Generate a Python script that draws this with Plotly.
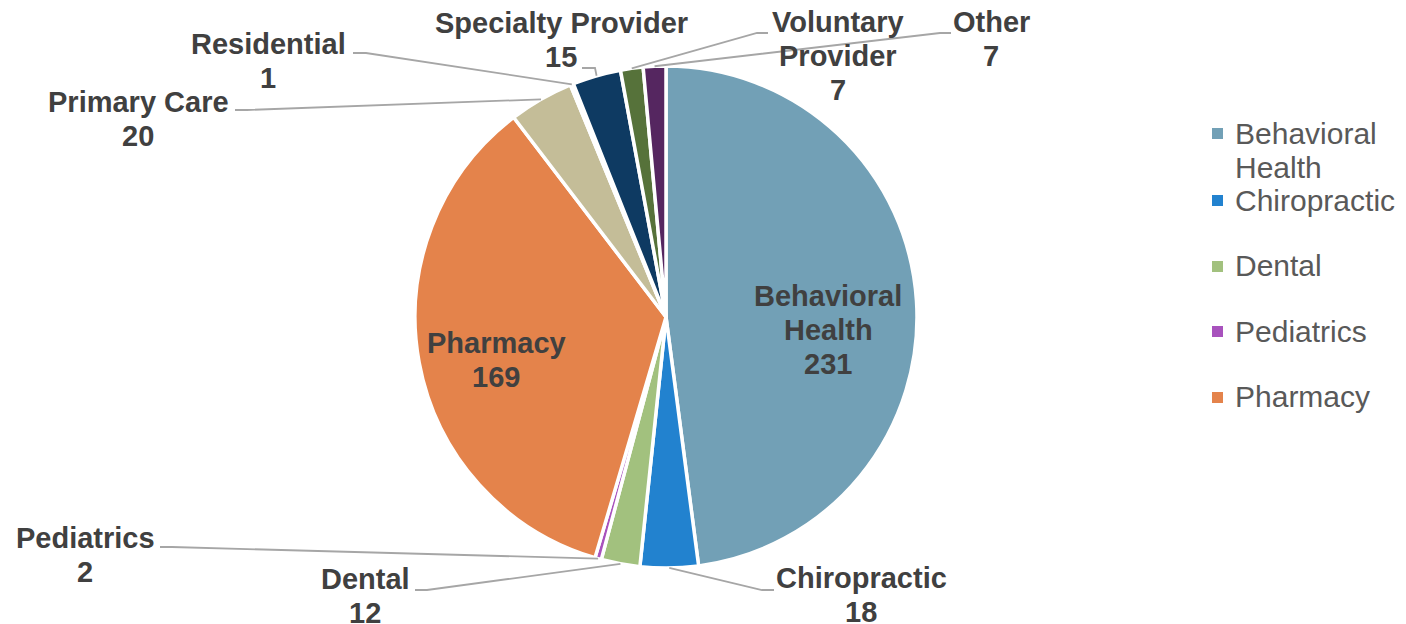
import math
import plotly.graph_objects as go

# ---------------- data ----------------
categories = ["Behavioral Health", "Chiropractic", "Dental", "Pediatrics", "Pharmacy",
              "Primary Care", "Residential", "Specialty Provider", "Voluntary Provider", "Other"]
values = [231, 18, 12, 2, 169, 20, 1, 15, 7, 7]
legend_categories = ["Behavioral Health", "Chiropractic", "Dental", "Pediatrics", "Pharmacy"]

# ---------------- styles ----------------
slice_colors = ["#72a0b6", "#2282cf", "#a2c17e", "#a852bd", "#e4834b",
                "#c4bd98", "#8c8c8c", "#0e3a62", "#56723a", "#552660"]
wrapped = {"Behavioral Health", "Voluntary Provider"}   # labels split over two lines

VIEW_W, VIEW_H = 1406, 624
OFF = 8                             # page body margin of the browser
W, H = VIEW_W - OFF, VIEW_H - OFF
CX, CY, R = 666, 317, 251          # pie centre / radius in page pixels
FONT = "Liberation Sans, Arial, sans-serif"
LABEL_COLOR = "#404040"
LEGEND_COLOR = "#595959"
LINE_COLOR = "#a6a6a6"
LINE_STEP = 34

# label layout: first-line centre (x, y) in page pixels; leader (elbow, end) points
label_pos = {
    "Behavioral Health": (828, 296),
    "Chiropractic": (861, 578),
    "Dental": (365, 579),
    "Pediatrics": (85, 538),
    "Pharmacy": (496, 343),
    "Primary Care": (138, 102),
    "Residential": (268, 44),
    "Specialty Provider": (561, 23),
    "Voluntary Provider": (838, 22),
    "Other": (991, 22),
}
leader_pts = {
    "Chiropractic": [(762, 590), (774, 590)],
    "Dental": [(427, 590), (415, 590)],
    "Pediatrics": [(172, 547), (160, 547)],
    "Primary Care": [(247, 110), (235, 110)],
    "Residential": [(366, 53), (353, 53)],
    "Specialty Provider": [(595, 68), (582, 68)],
    "Voluntary Provider": [(757, 33), (768, 33)],
    "Other": [(940, 33), (951, 33)],
}
legend_x_square, legend_x_text = 1212, 1233
legend_rows = [133, 200, 266, 331, 397]
LEGEND_LINE_STEP = 35


def px(x):
    return (x - OFF) / W


def py(y):
    return 1 - (y - OFF) / H


fig = go.Figure()
fig.add_trace(go.Pie(
    labels=categories, values=values, sort=False, direction="clockwise", rotation=0,
    marker=dict(colors=slice_colors, line=dict(color="white", width=3.5)),
    textinfo="none", hoverinfo="label+value", showlegend=False,
    domain=dict(x=[px(CX - R), px(CX + R)], y=[py(CY + R), py(CY - R)]),
))

annotations = []
shapes = []
total = sum(values)
cum = 0
for cat, val in zip(categories, values):
    mid = (cum + val / 2) / total * 2 * math.pi
    cum += val
    lines = (cat.split(" ") if cat in wrapped else [cat]) + [str(val)]
    lx, ly = label_pos[cat]
    for i, t in enumerate(lines):
        annotations.append(dict(
            x=px(lx), y=py(ly + i * LINE_STEP), xref="paper", yref="paper",
            text=f"<b>{t}</b>", showarrow=False, xanchor="center", yanchor="middle",
            font=dict(family=FONT, size=29, color=LABEL_COLOR)))
    if cat in leader_pts:
        sx = CX + R * math.sin(mid)
        sy = CY - R * math.cos(mid)
        pts = [(sx, sy)] + leader_pts[cat]
        path = "M " + " L ".join(f"{px(x):.5f},{py(y):.5f}" for x, y in pts)
        shapes.append(dict(type="path", path=path, xref="paper", yref="paper",
                           line=dict(color=LINE_COLOR, width=1.8)))

# legend (only the first five categories, as in the original)
for cat, row in zip(legend_categories, legend_rows):
    col = slice_colors[categories.index(cat)]
    shapes.append(dict(type="rect", xref="paper", yref="paper",
                       x0=px(legend_x_square), x1=px(legend_x_square + 11),
                       y0=py(row + 6), y1=py(row - 5),
                       fillcolor=col, line=dict(width=0)))
    for i, t in enumerate(cat.split(" ") if cat == "Behavioral Health" else [cat]):
        annotations.append(dict(
            x=px(legend_x_text), y=py(row + i * LEGEND_LINE_STEP), xref="paper", yref="paper",
            text=t, showarrow=False, xanchor="left", yanchor="middle",
            font=dict(family=FONT, size=30, color=LEGEND_COLOR)))

fig.update_layout(
    width=W, height=H, margin=dict(l=0, r=0, t=0, b=0),
    paper_bgcolor="white", plot_bgcolor="white",
    annotations=annotations, shapes=shapes, showlegend=False,
)
fig.write_html("out.html")
